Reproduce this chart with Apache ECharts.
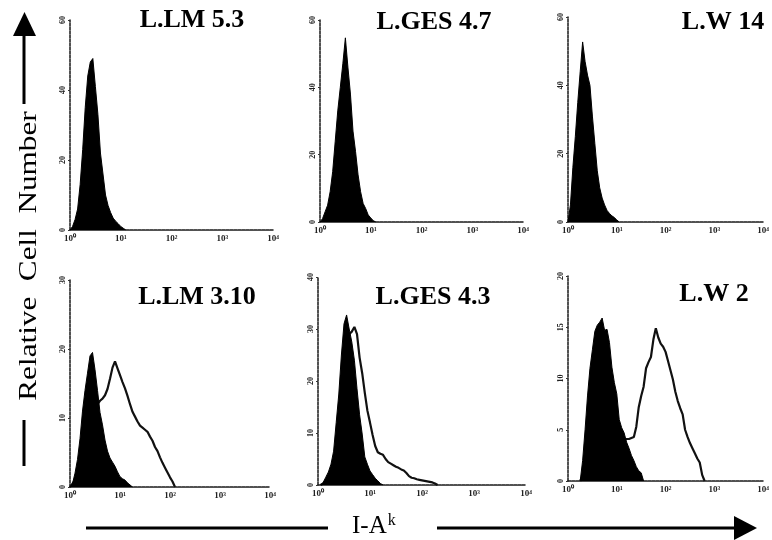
<!DOCTYPE html>
<html><head><meta charset="utf-8">
<script src="https://cdn.jsdelivr.net/npm/echarts@6/dist/echarts.min.js"></script>
<style>html,body{margin:0;padding:0;background:#fff}#c{width:772px;height:540px}</style>
</head><body><div id="c"></div>
<script>
// ---- data (x in decades of log10 fluorescence, bins of 0.05 decade starting at 10^0) ----
const binWidth = 0.05;
const panelTitles = ['L.LM 5.3', 'L.GES 4.7', 'L.W 14', 'L.LM 3.10', 'L.GES 4.3', 'L.W 2'];
const xTickLabels = ['10⁰', '10¹', '10²', '10³', '10⁴'];
const yAxisMax = [60, 60, 60, 30, 40, 20];
const yAxisStep = [20, 20, 20, 10, 10, 5];
const yLabel = 'Relative  Cell  Number';
const xLabelMain = 'I-A';
const xLabelSup = 'k';

const p1Filled = [0,1,3,6,13,23,35,44,48,49,41,33,22,16,10,7,5,3.4,2.5,1.8,1,0.5,0];
const p2Filled = [0,1,3,5,9,15,24,33,40,47,54.7,46,38,27,21,14,9,5.5,4,2.1,1.2,0.4,0];
const p3Filled = [0,5,16,25,35,44,52.7,47,43,40,31,23,15,10,7,5,3.4,2.5,1.8,1.3,0.6,0];
const p4Filled = [0,0.5,2,4,7,11,14,16.5,19,19.5,17,14,10.8,9,6.8,5.2,4.2,3.6,3,2.2,1.5,1.2,1,0.6,0.3,0];
const p4Open = [0,0.5,1,2,3,4.5,6,7.5,9,10,11,12,12.5,12.8,13.3,14.2,15.7,17.3,18.2,17.2,16.2,15.2,14.3,13.2,12,10.9,10.2,9.5,8.9,8.6,8.3,8,7.3,6.7,5.8,5.2,4.3,3.5,2.8,2.1,1.4,0.8,0];
const p5Filled = [0,0,0.5,1.5,2.5,4,6.5,12,17.5,25,31,32.7,30,27.5,24,18.5,13.5,9.8,5.4,4,2.7,2,1.3,0.8,0.3,0];
const p5Open = [0,0,0.3,0.8,1.5,2.5,4,7,11,16,22,27,29,29.5,30.4,29,24.5,21.5,17.7,14.3,12,9.6,7.5,6.3,6,5.8,5,4.4,4.1,3.8,3.5,3.3,3,2.8,2.3,1.7,1.4,1.3,1.1,1,0.9,0.8,0.7,0.6,0.5,0.3,0];
const p6Filled = [0,0,0,0,0,0,2,5,8.3,11,12.8,14.6,15.2,15.5,15.9,14.7,14.8,13.5,11.1,9.6,8.5,6,5.2,4.7,3.8,3.2,2.5,2,1.4,1,0.8,0];
const p6Open = [0,0,0,0,0,0,0.5,1,1.5,2,2.3,2.6,2.8,3,3.2,3.3,3.4,3.5,3.6,3.7,3.8,3.9,4,4,4.1,4.1,4.2,4.3,5.3,7.2,8.3,9.2,11,11.6,12.1,13.8,14.9,14,13.4,13.1,12.6,11.7,10.8,9.9,8.7,7.8,7.1,6.5,5,4.3,3.7,3.2,2.7,2.2,1.8,0.6,0];

const filledSets = [p1Filled, p2Filled, p3Filled, p4Filled, p5Filled, p6Filled];
const openSets = [null, null, null, p4Open, p5Open, p6Open];

// ---- layout ----
const gridPos = [
  {left: 70, top: 20, width: 203, height: 210},
  {left: 320, top: 20, width: 203, height: 202},
  {left: 568, top: 17, width: 202, height: 205},
  {left: 70, top: 280, width: 200, height: 207},
  {left: 318, top: 277, width: 208, height: 208},
  {left: 568, top: 276, width: 200, height: 205}
];
const titlePos = [[192, 20], [434, 22], [723, 22], [197, 297], [433, 297], [714, 294]];

function toPoints(vals) {
  let first = vals.findIndex(v => v > 0);
  let lastRev = vals.slice().reverse().findIndex(v => v > 0);
  let last = vals.length - 1 - lastRev;
  const s = Math.max(0, first - 1), e = Math.min(vals.length - 1, last + 1);
  const out = [];
  for (let i = s; i <= e; i++) out.push([+(i * binWidth).toFixed(2), vals[i]]);
  return out;
}

const axisLine = {show: true, lineStyle: {color: '#1a1a1a', width: 1.5, type: [3, 1]}};
const grid = [], xAxis = [], yAxis = [], series = [];
for (let i = 0; i < 6; i++) {
  grid.push(Object.assign({containLabel: false}, gridPos[i]));
  xAxis.push({
    type: 'value', gridIndex: i, min: 0, max: 4, interval: 1,
    axisLine: axisLine, axisTick: {show: false}, splitLine: {show: false},
    axisLabel: {formatter: v => xTickLabels[Math.round(v)], fontSize: 9, fontWeight: 'bold',
      fontFamily: '"Liberation Serif"', color: '#222', margin: 4}
  });
  yAxis.push({
    type: 'value', gridIndex: i, min: 0, max: yAxisMax[i], interval: yAxisStep[i],
    axisLine: axisLine, axisTick: {show: true, length: 2, lineStyle: {color: '#333'}},
    splitLine: {show: false},
    axisLabel: {rotate: 90, fontSize: 8, fontWeight: 'bold', fontFamily: '"Liberation Serif"',
      color: '#222', margin: 3}
  });
  if (openSets[i]) {
    series.push({
      type: 'line', xAxisIndex: i, yAxisIndex: i, data: toPoints(openSets[i]),
      showSymbol: false, symbol: 'none', z: 2, silent: true,
      lineStyle: {color: '#111', width: 2.2}
    });
  }
  series.push({
    type: 'line', xAxisIndex: i, yAxisIndex: i, data: toPoints(filledSets[i]),
    showSymbol: false, symbol: 'none', z: 3, silent: true,
    lineStyle: {color: '#000', width: 1},
    areaStyle: {color: '#000', opacity: 1}
  });
}

const graphic = [];
for (let i = 0; i < 6; i++) {
  graphic.push({
    type: 'text', x: titlePos[i][0], y: titlePos[i][1], silent: true,
    style: {text: panelTitles[i], font: 'bold 26px "Liberation Serif"', fill: '#000',
      textAlign: 'center', textVerticalAlign: 'middle', align: 'center', verticalAlign: 'middle'}
  });
}
// vertical label and arrows
graphic.push({
  type: 'text', x: 29, y: 256, rotation: Math.PI / 2, scaleX: 1.2, silent: true,
  style: {text: yLabel, font: '26px "Liberation Serif"', fill: '#000',
    textAlign: 'center', textVerticalAlign: 'middle', align: 'center', verticalAlign: 'middle'}
});
graphic.push({type: 'line', silent: true, shape: {x1: 24, y1: 104, x2: 24, y2: 30},
  style: {stroke: '#000', lineWidth: 3}});
graphic.push({type: 'polygon', silent: true, shape: {points: [[13, 36], [36, 36], [24.5, 12]]},
  style: {fill: '#000'}});
graphic.push({type: 'line', silent: true, shape: {x1: 24, y1: 420, x2: 24, y2: 466},
  style: {stroke: '#000', lineWidth: 3}});
// horizontal label and arrows
graphic.push({type: 'line', silent: true, shape: {x1: 86, y1: 528, x2: 328, y2: 528},
  style: {stroke: '#000', lineWidth: 3}});
graphic.push({type: 'line', silent: true, shape: {x1: 437, y1: 528, x2: 738, y2: 528},
  style: {stroke: '#000', lineWidth: 3}});
graphic.push({type: 'polygon', silent: true, shape: {points: [[734, 516], [734, 540], [757, 528]]},
  style: {fill: '#000'}});
graphic.push({
  type: 'text', x: 352, y: 526, silent: true,
  style: {text: '{m|' + xLabelMain + '}{s|' + xLabelSup + '}', fill: '#000',
    textAlign: 'left', textVerticalAlign: 'middle', align: 'left', verticalAlign: 'middle',
    rich: {m: {font: '25px "Liberation Serif"', fill: '#000', color: '#000'},
           s: {font: '16px "Liberation Serif"', fill: '#000', color: '#000', verticalAlign: 'top', padding: [0, 0, 10, 1]}}}
});

const chart = echarts.init(document.getElementById('c'), null, {renderer: 'canvas'});
chart.setOption({animation: false, backgroundColor: '#fff', grid, xAxis, yAxis, series, graphic});
</script>
</body></html>
